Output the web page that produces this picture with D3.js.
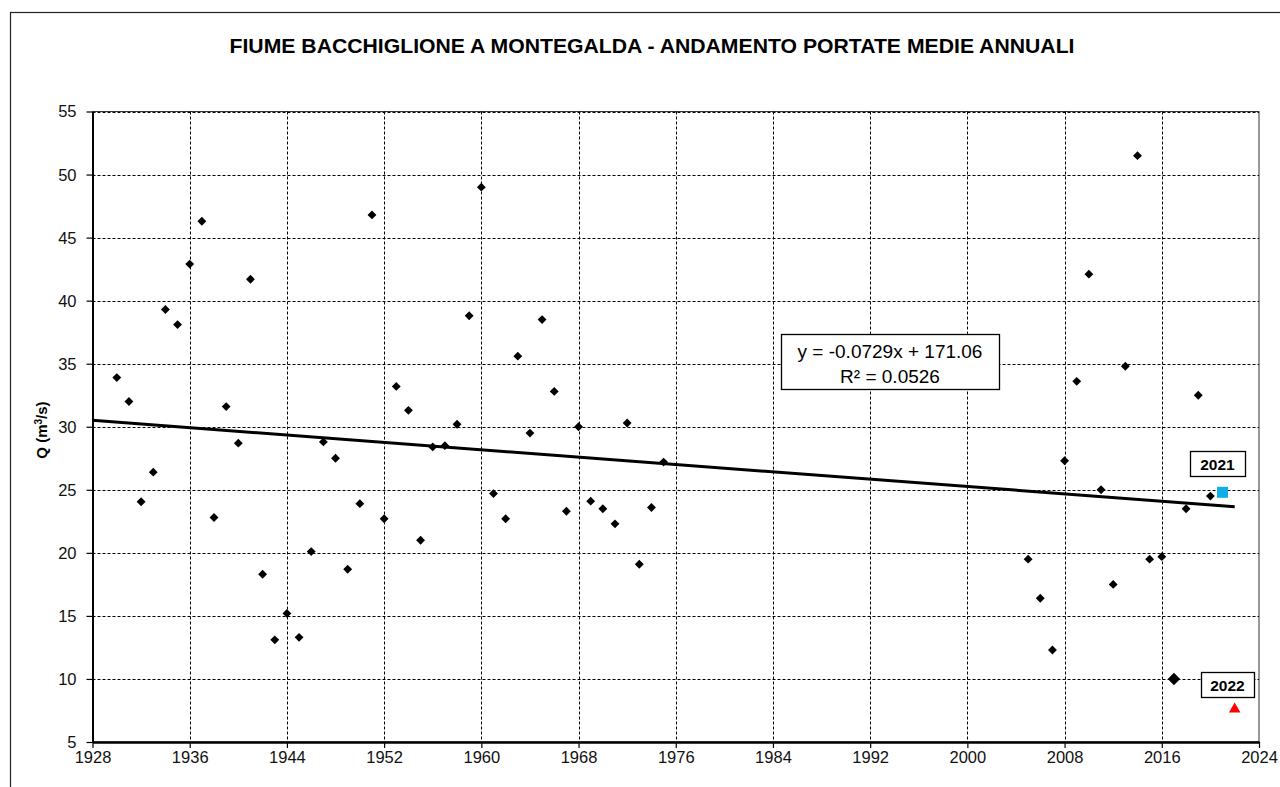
<!DOCTYPE html>
<html>
<head>
<meta charset="utf-8">
<script src="https://cdn.jsdelivr.net/npm/d3@7"></script>
<style>
  body { margin: 0; background: #fff; }
  svg { display: block; font-family: Arial, "Liberation Sans", sans-serif; }
</style>
</head>
<body>
<svg id="chart" width="1280" height="787"></svg>
<script>
// annual mean flows (m3/s)
const years = [1930, 1931, 1932, 1933, 1934, 1935, 1936, 1937, 1938, 1939,
  1940, 1941, 1942, 1943, 1944, 1945, 1946, 1947, 1948, 1949,
  1950, 1951, 1952, 1953, 1954, 1955, 1956, 1957, 1958, 1959,
  1960, 1961, 1962, 1963, 1964, 1965, 1966, 1967, 1968, 1969,
  1970, 1971, 1972, 1973, 1974, 1975,
  2005, 2006, 2007, 2008, 2009, 2010, 2011, 2012, 2013, 2014,
  2015, 2016, 2017, 2018, 2019, 2020];
const flows = [33.9, 32.0, 24.05, 26.4, 39.3, 38.1, 42.9, 46.3, 22.8, 31.6,
  28.7, 41.7, 18.3, 13.1, 15.2, 13.3, 20.1, 28.8, 27.5, 18.7,
  23.9, 46.8, 22.7, 33.2, 31.3, 21.0, 28.4, 28.5, 30.2, 38.8,
  49.0, 24.7, 22.7, 35.6, 29.5, 38.5, 32.8, 23.3, 30.0, 24.1,
  23.5, 22.3, 30.3, 19.1, 23.6, 27.2,
  19.5, 16.4, 12.3, 27.3, 33.6, 42.1, 25.0, 17.5, 34.8, 51.5,
  19.5, 19.7, 10.0, 23.5, 32.5, 24.5];
const bigYear = 2017;
const year2021 = [2021, 24.8];
const year2022 = [2022, 7.6];

// trend line from the spreadsheet: y = -0.0729x + 171.06
const trendSlope = -0.0729;
const trendIntercept = 171.06;
const trendYears = [1928, 2022];

const xTicks = [1928, 1936, 1944, 1952, 1960, 1968, 1976, 1984, 1992, 2000, 2008, 2016, 2024];
const yTicks = [5, 10, 15, 20, 25, 30, 35, 40, 45, 50, 55];

const svg = d3.select("#chart");
const m = { left: 92.5, right: 1259, top: 111.5, bottom: 742 };

const x = d3.scaleLinear().domain([1928, 2024]).range([m.left, m.right]);
const y = d3.scaleLinear().domain([5, 55]).range([m.bottom, m.top]);

// outer frame
svg.append("rect")
  .attr("x", 10.5).attr("y", 12.5)
  .attr("width", 1290).attr("height", 800)
  .attr("fill", "none").attr("stroke", "#222").attr("stroke-width", 1.2);

svg.append("text")
  .attr("x", 652).attr("y", 53)
  .attr("text-anchor", "middle")
  .attr("font-size", 19.5).attr("font-weight", "bold")
  .attr("textLength", 845).attr("lengthAdjust", "spacingAndGlyphs")
  .text("FIUME BACCHIGLIONE A MONTEGALDA - ANDAMENTO PORTATE MEDIE ANNUALI");

// plot border
svg.append("rect")
  .attr("x", m.left).attr("y", m.top)
  .attr("width", m.right - m.left).attr("height", m.bottom - m.top)
  .attr("fill", "none").attr("stroke", "#333").attr("stroke-width", 1);

// grid
svg.append("g").selectAll("line")
  .data(yTicks.slice(1))
  .enter().append("line")
  .attr("x1", m.left).attr("x2", m.right)
  .attr("y1", d => Math.round(y(d)) + 0.5).attr("y2", d => Math.round(y(d)) + 0.5)
  .attr("stroke", "#000").attr("stroke-width", 1)
  .attr("stroke-dasharray", "3,2");

svg.append("g").selectAll("line")
  .data(xTicks.slice(1, -1))
  .enter().append("line")
  .attr("x1", d => Math.round(x(d)) + 0.5).attr("x2", d => Math.round(x(d)) + 0.5)
  .attr("y1", m.top).attr("y2", m.bottom)
  .attr("stroke", "#000").attr("stroke-width", 1)
  .attr("stroke-dasharray", "3,2");

// axes
const xAxis = svg.append("g")
  .attr("transform", `translate(0,${m.bottom})`)
  .call(d3.axisBottom(x).tickValues(xTicks).tickFormat(d3.format("d")).tickSize(6).tickSizeOuter(0));
const yAxis = svg.append("g")
  .attr("transform", `translate(${m.left},0)`)
  .call(d3.axisLeft(y).tickValues(yTicks).tickSize(6).tickSizeOuter(0));

xAxis.select(".domain").attr("stroke", "#000").attr("stroke-width", 2.5);
yAxis.select(".domain").attr("stroke", "#000").attr("stroke-width", 2);
[xAxis, yAxis].forEach(a => {
  a.selectAll(".tick line").attr("stroke", "#000").attr("stroke-width", 1.2);
  a.selectAll(".tick text")
    .style("font-size", "16.5px")
    .style("font-family", "Arial, 'Liberation Sans', sans-serif")
    .attr("fill", "#111");
});
xAxis.selectAll(".tick text").attr("y", 21).attr("dy", 0);
yAxis.selectAll(".tick text").attr("dy", "0.33em").attr("x", -16);

// y label
svg.append("text")
  .attr("transform", "translate(47,430) rotate(-90)")
  .attr("text-anchor", "middle")
  .attr("font-size", 15).attr("font-weight", "bold")
  .html('Q (m<tspan baseline-shift="super" font-size="10">3</tspan>/s)');

// trend line
svg.append("path")
  .datum(trendYears)
  .attr("d", d3.line().x(d => x(d)).y(d => y(trendSlope * d + trendIntercept)))
  .attr("fill", "none").attr("stroke", "#000").attr("stroke-width", 3);

// points
const pts = years.map((yr, i) => ({ yr, q: flows[i] }));
svg.append("g").selectAll("path")
  .data(pts)
  .enter().append("path")
  .attr("transform", d => `translate(${x(d.yr)},${y(d.q)})`)
  .attr("d", d => d3.symbol(d3.symbolDiamond2, d.yr === bigYear ? 98 : 50)())
  .attr("fill", "#000");

svg.append("rect")
  .attr("x", x(year2021[0]) - 5.5).attr("y", y(year2021[1]) - 5.5)
  .attr("width", 11).attr("height", 11)
  .attr("fill", "#10aee8");

svg.append("path")
  .attr("transform", `translate(${x(year2022[0])},${y(year2022[1])})`)
  .attr("d", d3.symbol(d3.symbolTriangle, 58)())
  .attr("fill", "#f00");

// label boxes
function box(x0, y0, w, h, lines, opts) {
  svg.append("rect")
    .attr("x", x0 + 0.5).attr("y", y0 + 0.5).attr("width", w).attr("height", h)
    .attr("fill", "#fff").attr("stroke", "#000").attr("stroke-width", 1.3);
  lines.forEach((t, i) => {
    svg.append("text")
      .attr("x", x0 + w / 2).attr("y", opts.base + i * opts.step)
      .attr("text-anchor", "middle")
      .attr("font-size", opts.size).attr("font-weight", opts.weight)
      .text(t);
  });
}

box(781, 334, 218, 55, ["y = -0.0729x + 171.06", "R\u00b2 = 0.0526"],
  { base: 358, step: 25, size: 19, weight: "normal" });
box(1190, 451, 55, 25, ["2021"], { base: 469.5, step: 0, size: 15.5, weight: "bold" });
box(1201, 672, 53, 25, ["2022"], { base: 690.5, step: 0, size: 15.5, weight: "bold" });
</script>
</body>
</html>
